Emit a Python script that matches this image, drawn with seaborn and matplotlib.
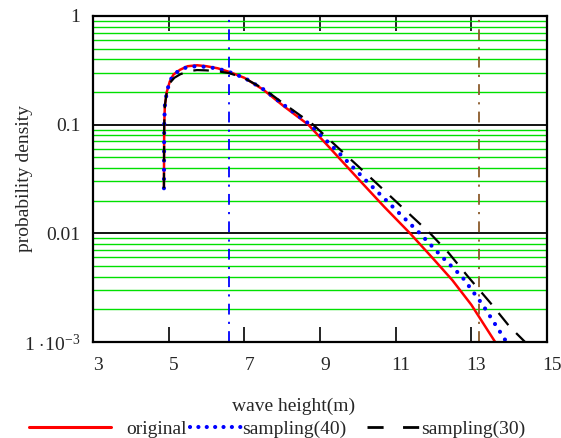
import numpy as np
import pandas as pd
import matplotlib
matplotlib.use("Agg")
import matplotlib.pyplot as plt
from matplotlib.ticker import FixedLocator, FixedFormatter, LogLocator, NullFormatter
from matplotlib.lines import Line2D
import matplotlib.transforms as mtransforms
import seaborn as sns

# ---- data ----
x_orig = [4.875, 4.878, 4.882, 4.90, 4.95, 5.03, 5.13, 5.30, 5.50, 5.75, 6.00, 6.30, 6.60,
          7.00, 7.50, 8.03, 8.69, 9.30, 9.50, 10.00, 10.70, 11.38, 12.00, 12.50, 13.00, 13.63]
y_orig = [0.026, 0.05, 0.1, 0.15, 0.20, 0.25, 0.29, 0.32, 0.345, 0.352, 0.345, 0.33, 0.306,
          0.27, 0.21, 0.149, 0.1, 0.059, 0.0495, 0.032, 0.0175, 0.01, 0.0058, 0.0037, 0.0022, 0.001]

x_s40 = [4.875, 4.878, 4.882, 4.90, 4.95, 5.03, 5.13, 5.30, 5.50, 5.75, 6.00, 6.30, 6.60,
         7.00, 7.50, 8.00, 8.74, 9.50, 10.20, 11.00, 11.64, 12.20, 12.75, 13.30, 13.93]
y_s40 = [0.026, 0.05, 0.1, 0.15, 0.20, 0.25, 0.29, 0.318, 0.34, 0.345, 0.34, 0.328, 0.305,
         0.27, 0.212, 0.156, 0.1, 0.055, 0.031, 0.0165, 0.01, 0.0062, 0.004, 0.0022, 0.001]

x_s30 = [4.875, 4.878, 4.882, 4.90, 4.95, 5.04, 5.15, 5.30, 5.50, 5.75, 6.00, 6.30, 6.60,
         7.00, 7.50, 8.00, 8.82, 9.60, 10.40, 11.20, 11.91, 12.40, 12.91, 13.50, 14.00, 14.42]
y_s30 = [0.026, 0.05, 0.1, 0.15, 0.20, 0.244, 0.27, 0.29, 0.31, 0.318, 0.316, 0.31, 0.298,
         0.268, 0.215, 0.16, 0.1, 0.056, 0.031, 0.017, 0.01, 0.0066, 0.004, 0.0023, 0.0014, 0.001]

series_names = ["original", "sampling(40)", "sampling(30)"]
vline_x = [6.6, 13.2]
x_ticks = [3, 5, 7, 9, 11, 13, 15]
y_ticks = [0.001, 0.01, 0.1, 1]
y_tick_labels = [r"$1\,\cdot\!10^{-3}\;\;$", "0.01", "0.1", "1"]

df = pd.concat([
    pd.DataFrame({"x": x_orig, "y": y_orig, "series": series_names[0]}),
    pd.DataFrame({"x": x_s40, "y": y_s40, "series": series_names[1]}),
    pd.DataFrame({"x": x_s30, "y": y_s30, "series": series_names[2]}),
], ignore_index=True)

# ---- style ----
sns.set_style("white")
plt.rcParams["font.family"] = ["Liberation Serif", "DejaVu Serif"]
plt.rcParams["mathtext.fontset"] = "custom"
plt.rcParams["mathtext.rm"] = "Liberation Serif"
plt.rcParams["mathtext.it"] = "Liberation Serif:italic"
plt.rcParams["mathtext.bf"] = "Liberation Serif:bold"

FS = 14

fig = plt.figure(figsize=(5.61, 4.38), dpi=100)
ax = fig.add_axes([93 / 561, 1 - 342 / 438, 454 / 561, 326 / 438])

colors = {"original": "#ff0000", "sampling(40)": "#0000ff", "sampling(30)": "#000000"}
dot_style = (0, (0.01, 2.2))
styles = {"original": dict(lw=1.8, ls="-"),
          "sampling(40)": dict(lw=3.0, ls=dot_style),
          "sampling(30)": dict(lw=1.6, ls=(0, (7, 5)))}

ax.set_yscale("log")
ax.set_xlim(3, 15)
ax.set_ylim(0.001, 1)

ax.yaxis.set_major_locator(FixedLocator(y_ticks))
ax.yaxis.set_major_formatter(FixedFormatter(y_tick_labels))
ax.yaxis.set_minor_locator(LogLocator(base=10, subs=np.arange(2, 10)))
ax.yaxis.set_minor_formatter(NullFormatter())
ax.grid(False)
ax.grid(which="minor", axis="y", color="#00e000", lw=1.0)
ax.grid(which="major", axis="y", color="black", lw=1.3)
ax.set_axisbelow(True)

for name in series_names:
    sub = df[df["series"] == name]
    sns.lineplot(data=sub, x="x", y="y", ax=ax, estimator=None, sort=False,
                 color=colors[name], legend=False, **styles[name])
    if name == "sampling(40)":
        ax.get_lines()[-1].set_dash_capstyle("round")

ax.axvline(vline_x[0], color="#0000ff", lw=1.3, ls=(0, (6, 4, 1.2, 4)))
ax.axvline(vline_x[1], color="#8b5a2b", lw=1.3, ls=(0, (6, 4, 1.2, 4)))

ax.set_xticks(x_ticks)
ax.set_xticklabels([str(t) for t in x_ticks], ha="center")
ax.tick_params(axis="x", which="major", direction="in", length=11, width=1.2,
               top=True, bottom=True, labelsize=FS, pad=11, color="black")
ax.tick_params(axis="y", which="both", length=0, labelsize=FS, pad=9)
offset = mtransforms.ScaledTranslation(5 / 100, 0, fig.dpi_scale_trans)
for lab in ax.get_xticklabels():
    lab.set_transform(lab.get_transform() + offset)

for sp in ax.spines.values():
    sp.set_visible(True)
    sp.set_color("black")
    sp.set_linewidth(1.6)

ax.set_xlabel("wave height(m)", fontsize=FS)
ax.xaxis.set_label_coords((294 - 93) / 454, -0.17)
ax.set_ylabel("probability density", fontsize=FS)
ax.yaxis.set_label_coords(-0.132, 0.5)

# legend: three separate entries matching the reference layout
leg_handles = [
    Line2D([], [], color="#ff0000", lw=2.2, ls="-"),
    Line2D([], [], color="#0000ff", lw=3.0, ls=(0, (0.01, 2.0)), dash_capstyle="round"),
    Line2D([], [], color="#000000", lw=2.0, ls=(0, (5.8, 7.0))),
]
leg_left_px = [29, 190, 367]
handle_len = [4.2, 2.7, 2.7]
text_pad = [0.8, 0.0, 0.1]
for h, name, lx, hl, tp in zip(leg_handles, series_names, leg_left_px, handle_len, text_pad):
    fig.legend([h], [name], loc="center left", bbox_to_anchor=(lx / 561, 9 / 438),
               frameon=False, fontsize=FS, handlelength=hl, handletextpad=tp,
               borderpad=0, borderaxespad=0)

fig.savefig("out.png", dpi=100)
